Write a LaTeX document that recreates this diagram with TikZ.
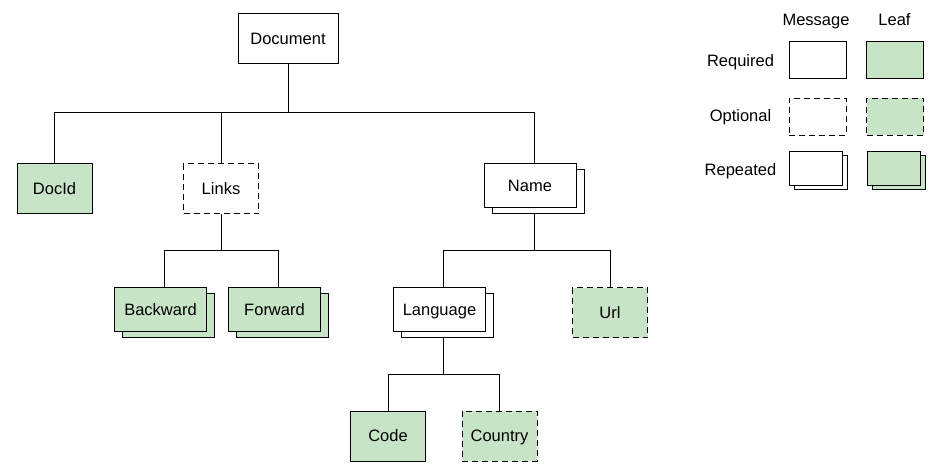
\documentclass[tikz,border=0pt]{standalone}
\usepackage{fontspec}
\setmainfont{Liberation Sans}
\usetikzlibrary{shadows}
\definecolor{leafgreen}{RGB}{200,228,199}
\begin{document}
\begin{tikzpicture}[x=1pt,y=-1pt,
  txt/.style={font=\fontsize{16.5}{20}\selectfont},
  base/.style={txt, draw=black, line width=1pt, fill=white, text height=11.8pt, text depth=0pt, inner sep=0pt},
  single/.style={base, minimum width=75pt, minimum height=50pt},
  rep/.style={base, minimum width=92pt, minimum height=44pt,
    copy shadow={shadow xshift=8pt, shadow yshift=-6pt, line width=1pt}},
  opt/.style={dash pattern=on 6pt off 4pt},
  leaf/.style={fill=leafgreen},
  legbox/.style={draw=black, line width=1pt, fill=white, inner sep=0pt, minimum width=57pt, minimum height=37pt},
  legrep/.style={draw=black, line width=1pt, fill=white, inner sep=0pt, minimum width=53pt, minimum height=34pt,
    copy shadow={shadow xshift=5pt, shadow yshift=-4pt, line width=1pt}},
  conn/.style={draw=black, line width=1pt}
]
\useasboundingbox (0,0) rectangle (932,470);

% tree nodes
\node[single, minimum width=100pt] (doc) at (288,38.5) {Document};
\node[single, leaf] (docid) at (54.5,189) {DocId};
\node[single, opt] (links) at (221,189) {Links};
\node[rep] (name) at (530,186) {Name};
\node[rep, leaf] (back) at (160.5,310) {Backward};
\node[rep, leaf] (fwd) at (274.5,310) {Forward};
\node[rep] (lang) at (439.5,310) {Language};
\node[single, leaf, opt] (url) at (610,313) {Url};
\node[single, leaf] (code) at (388,436) {Code};
\node[single, leaf, opt] (country) at (499.5,436) {Country};

% bus levels
\coordinate (busA) at (0,113);
\coordinate (busB) at (0,251);
\coordinate (busC) at (0,374);
\coordinate (nameS) at ([xshift=4pt,yshift=-6pt]name.south);
\coordinate (langS) at ([xshift=4pt,yshift=-6pt]lang.south);

% connectors
\draw[conn] (doc.south) -- (doc.south |- busA) -| (docid.north);
\draw[conn] (doc.south |- busA) -| (links.north);
\draw[conn] (doc.south |- busA) -| ([xshift=4pt]name.north);
\draw[conn] (links.south) -- (links.south |- busB) -| ([xshift=4pt]back.north);
\draw[conn] (links.south |- busB) -| ([xshift=4pt]fwd.north);
\draw[conn] (nameS) -- (nameS |- busB) -| ([xshift=4pt]lang.north);
\draw[conn] (nameS |- busB) -| (url.north);
\draw[conn] (langS) -- (langS |- busC) -| (code.north);
\draw[conn] (langS |- busC) -| (country.north);

% legend
\node[txt, anchor=base] (lmsg) at (816,26) {Message};
\node[txt, anchor=base] (lleaf) at (894.5,26) {Leaf};
\node[txt, anchor=base] (lreq) at (740.5,66.5) {Required};
\node[txt, anchor=base] (lopt) at (740.5,121.5) {Optional};
\node[txt, anchor=base] (lrep) at (740.5,175.5) {Repeated};
\node[legbox] (mreq) at (817.5,60.5) {};
\node[legbox, leaf] (freq) at (895,60.5) {};
\node[legbox, opt] (mopt) at (817.5,117) {};
\node[legbox, leaf, opt] (fopt) at (895,117) {};
\node[legrep] (mrep) at (815.5,169) {};
\node[legrep, leaf] (frep) at (893.5,169) {};
\end{tikzpicture}
\end{document}
